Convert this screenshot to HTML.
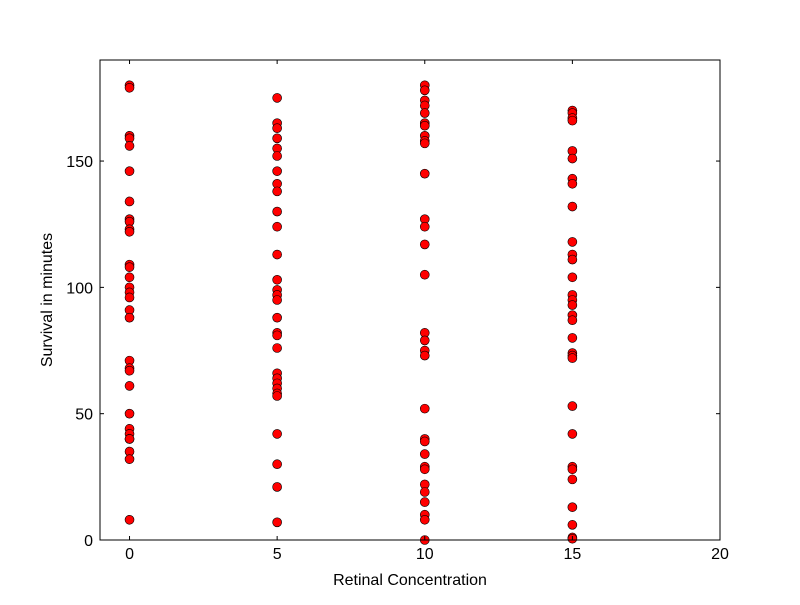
<!DOCTYPE html>
<html><head><meta charset="utf-8"><style>
body{margin:0;background:#fff;}
svg text{font-family:"Liberation Sans",sans-serif;font-size:16px;fill:#000;}
</style></head><body>
<svg id="chart" width="800" height="600">
<rect x="0" y="0" width="800" height="600" fill="#fff"/>
<g id="pts"></g>
<rect x="100" y="60" width="620" height="480" fill="none" stroke="#000" stroke-width="1"/>
<g id="axes"></g>
<text x="410" y="585" text-anchor="middle">Retinal Concentration</text>
<text transform="translate(52,300) rotate(-90)" text-anchor="middle">Survival in minutes</text>
</svg>
<script>
const groups = [0, 5, 10, 15];
const vals0 = [180,179,160,159,156,146,134,127,126,123,122,109,108,104,100,98,96,91,88,71,68,67,61,50,44,42,40,40,35,32,8];
const vals5 = [175,165,163,159,155,152,146,141,138,130,124,113,103,99,97,95,88,82,81,76,66,64,62,60,58,57,42,30,21,7];
const vals10 = [180,178,174,172,169,165,164,160,158,157,145,127,124,117,105,82,79,75,73,52,40,39,34,29,28,22,19,15,10,8,0];
const vals15 = [170,169,167,166,154,151,143,141,132,118,113,111,104,97,95,93,89,87,80,74,73,72,53,42,29,28,24,13,6,1,0.5];
const xTicks = [0, 5, 10, 15, 20];
const yTicks = [0, 50, 100, 150];
const NS = "http://www.w3.org/2000/svg";
const X = v => 100 + (v + 1) / 21 * 620;
const Y = v => 540 - v / 190 * 480;
const pts = document.getElementById('pts');
const series = [vals0, vals5, vals10, vals15];
series.forEach((arr, gi) => {
  arr.forEach(v => {
    const c = document.createElementNS(NS, 'circle');
    c.setAttribute('cx', X(groups[gi]));
    c.setAttribute('cy', Y(v));
    c.setAttribute('r', 4.5);
    c.setAttribute('fill', '#ff0000');
    c.setAttribute('stroke', '#000');
    c.setAttribute('stroke-width', '0.6');
    
    
    pts.appendChild(c);
  });
});
const axes = document.getElementById('axes');
xTicks.forEach(t => {
  const x = X(t);
  [[540, 536], [60, 64]].forEach(([a, b]) => {
    const l = document.createElementNS(NS, 'line');
    l.setAttribute('x1', x); l.setAttribute('x2', x);
    l.setAttribute('y1', a); l.setAttribute('y2', b);
    l.setAttribute('stroke', '#000');
    
    
    axes.appendChild(l);
  });
  const tx = document.createElementNS(NS, 'text');
  tx.setAttribute('x', x); tx.setAttribute('y', 559);
  tx.setAttribute('text-anchor', 'middle');
  tx.textContent = t;
  
  
  axes.appendChild(tx);
});
yTicks.forEach(t => {
  const y = Y(t);
  [[100, 104], [720, 716]].forEach(([a, b]) => {
    const l = document.createElementNS(NS, 'line');
    l.setAttribute('x1', a); l.setAttribute('x2', b);
    l.setAttribute('y1', y); l.setAttribute('y2', y);
    l.setAttribute('stroke', '#000');
    
    
    axes.appendChild(l);
  });
  const tx = document.createElementNS(NS, 'text');
  tx.setAttribute('x', 93); tx.setAttribute('y', y + 6);
  tx.setAttribute('text-anchor', 'end');
  tx.textContent = t;
  
  
  axes.appendChild(tx);
});
</script>
</body></html>
